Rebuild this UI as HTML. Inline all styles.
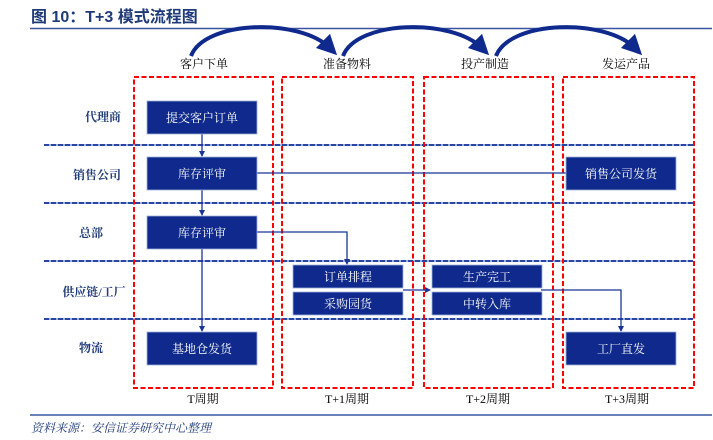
<!DOCTYPE html>
<html><head><meta charset="utf-8"><style>
html,body{margin:0;padding:0;background:#fff;}
svg{display:block;}
text{font-family:"Liberation Serif","Noto Serif CJK SC","Noto Sans CJK SC",serif;}
.t{font-family:"Liberation Sans","Noto Sans CJK SC",sans-serif;}
</style></head><body>
<svg width="713" height="440" viewBox="0 0 713 440" xmlns="http://www.w3.org/2000/svg">
<defs>
<marker id="a" markerWidth="6" markerHeight="6" refX="5" refY="3" orient="auto" markerUnits="userSpaceOnUse"><path d="M0,0 L6,3 L0,6 z" fill="#1a3596"/></marker>
<marker id="b" markerWidth="5" markerHeight="5" refX="2.5" refY="2.5" orient="auto"><path d="M0,0 L5,2.5 L0,5 z" fill="#0f2a8c"/></marker>
</defs>
<text class="t" x="31" y="22" font-size="16" font-weight="bold" fill="#1f3a78">图 10：T+3 模式流程图</text>
<line x1="30" y1="28.5" x2="712" y2="28.5" stroke="#3b54a0" stroke-width="1.5"/>
<!-- arcs -->
<g fill="none" stroke="#0f2a8c" stroke-width="4" marker-end="url(#b)">
<path d="M191,56 C205,20 300,18 330,48"/>
<path d="M343,56 C357,20 452,18 482,48"/>
<path d="M496,56 C510,20 605,18 635,48"/>
</g>
<g font-size="12" fill="#000" text-anchor="middle" class="t">
<text x="204" y="68">客户下单</text>
<text x="347" y="68">准备物料</text>
<text x="485" y="68">投产制造</text>
<text x="626" y="68">发运产品</text>
</g>
<!-- horizontal dashed lines -->
<g stroke-width="2">
<g stroke="#9fb0dc"><line x1="44" y1="145" x2="693" y2="145"/><line x1="44" y1="203" x2="693" y2="203"/><line x1="44" y1="261" x2="693" y2="261"/><line x1="44" y1="319" x2="693" y2="319"/></g>
<g stroke="#2a46a0" stroke-dasharray="5,2"><line x1="44" y1="145" x2="693" y2="145"/><line x1="44" y1="203" x2="693" y2="203"/><line x1="44" y1="261" x2="693" y2="261"/><line x1="44" y1="319" x2="693" y2="319"/></g>
</g>
<!-- red dashed boxes -->
<g fill="none" stroke="#ff0000" stroke-width="2" stroke-dasharray="5,2.5">
<rect x="134" y="77" width="139" height="311"/>
<rect x="282" y="77" width="131" height="311"/>
<rect x="424" y="77" width="129" height="311"/>
<rect x="563" y="77" width="131" height="311"/>
</g>
<g class="t" font-size="12" font-weight="bold" fill="#1f3a78" text-anchor="middle">
<text x="103" y="121">代理商</text>
<text x="97" y="179">销售公司</text>
<text x="91" y="237">总部</text>
<text x="94" y="296">供应链/工厂</text>
<text x="91" y="352">物流</text>
</g>
<!-- connectors -->
<g fill="none" stroke="#1a3596" stroke-width="1.3">
<line x1="202" y1="134" x2="202" y2="156" marker-end="url(#a)"/>
<line x1="202" y1="190" x2="202" y2="215" marker-end="url(#a)"/>
<line x1="202" y1="249" x2="202" y2="331" marker-end="url(#a)"/>
<line x1="257" y1="173" x2="566" y2="173"/>
<polyline points="257,232 347,232 347,264" marker-end="url(#a)"/>
<line x1="403" y1="290" x2="430" y2="290" marker-end="url(#a)"/>
<polyline points="541,290 621,290 621,331" marker-end="url(#a)"/>
</g>
<!-- nodes -->
<g fill="#0f2a8c" stroke="#9fb0dc" stroke-width="0.8">
<rect x="147" y="101" width="110" height="33"/>
<rect x="147" y="157" width="110" height="33"/>
<rect x="147" y="216" width="110" height="33"/>
<rect x="293" y="265" width="110" height="23"/>
<rect x="293" y="292" width="110" height="23"/>
<rect x="432" y="265" width="110" height="23"/>
<rect x="432" y="292" width="110" height="23"/>
<rect x="147" y="332" width="110" height="33"/>
<rect x="566" y="157" width="110" height="33"/>
<rect x="566" y="332" width="110" height="33"/>
</g>
<g font-size="12" fill="#fff" text-anchor="middle">
<text x="202" y="122">提交客户订单</text>
<text x="202" y="178">库存评审</text>
<text x="202" y="237">库存评审</text>
<text x="348" y="281">订单排程</text>
<text x="348" y="308">采购园货</text>
<text x="487" y="281">生产完工</text>
<text x="487" y="308">中转入库</text>
<text x="202" y="353">基地仓发货</text>
<text x="621" y="178">销售公司发货</text>
<text x="621" y="353">工厂直发</text>
</g>
<g font-size="12" fill="#000" text-anchor="middle">
<text x="203" y="403">T周期</text>
<text x="347" y="403">T+1周期</text>
<text x="488" y="403">T+2周期</text>
<text x="627" y="403">T+3周期</text>
</g>
<line x1="30" y1="415" x2="712" y2="415" stroke="#6b7fb8" stroke-width="2"/>
<text x="31" y="432" font-size="12" font-style="italic" fill="#1f3a78">资料来源：安信证券研究中心整理</text>
</svg>
</body></html>
